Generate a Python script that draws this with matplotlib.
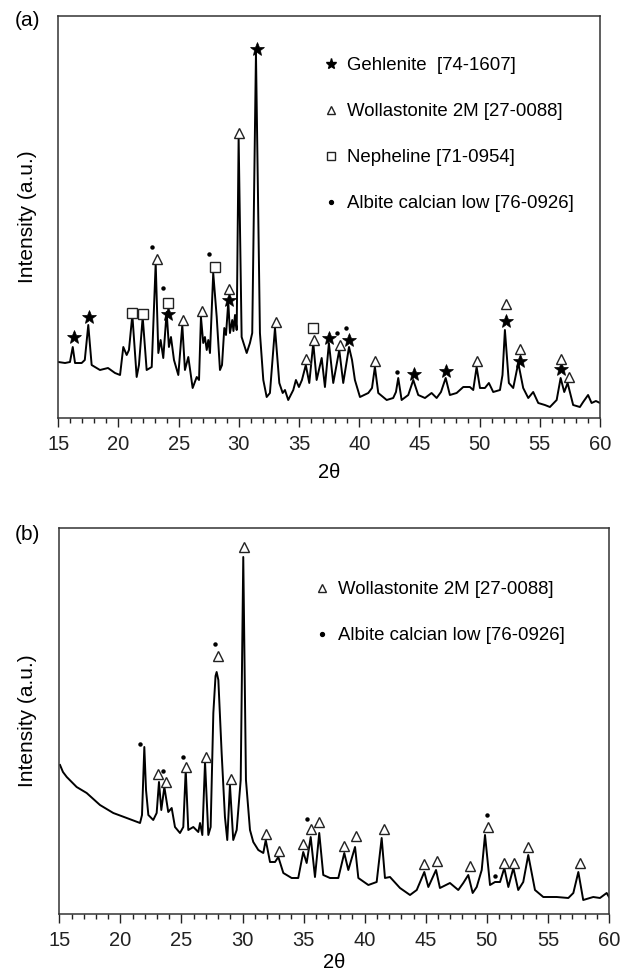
import matplotlib
matplotlib.use("Agg")
import matplotlib.pyplot as plt
from matplotlib.lines import Line2D
from matplotlib.ticker import MultipleLocator

plt.rcParams['font.family'] = ['Liberation Sans', 'DejaVu Sans']

# ---------------- Panel (a) data ----------------
a_two_theta = [15.0, 15.56, 15.97, 16.2, 16.39, 16.94, 17.2, 17.49, 17.77, 18.05, 18.46, 19.13,
               19.71, 20.13, 20.4, 20.68, 20.87, 21.15, 21.51, 21.7, 22.01, 22.34, 22.76, 23.09,
               23.31, 23.5, 23.72, 24.0, 24.19, 24.36, 24.61, 24.97, 25.3, 25.52, 25.8, 26.16,
               26.5, 26.69, 26.85, 27.04, 27.18, 27.33, 27.46, 27.6, 27.87, 28.16, 28.43, 28.6,
               28.79, 28.93, 29.12, 29.26, 29.45, 29.55, 29.68, 29.82, 29.98, 30.23, 30.65, 30.92,
               31.11, 31.42, 31.75, 32.03, 32.31, 32.58, 33.0, 33.36, 33.64, 33.83, 34.1, 34.52,
               34.74, 34.99, 35.24, 35.56, 35.85, 36.18, 36.46, 36.88, 37.15, 37.48, 37.84, 38.34,
               38.67, 39.15, 39.4, 39.64, 40.06, 40.75, 41.06, 41.3, 41.58, 42.28, 42.82, 43.05,
               43.24, 43.52, 44.07, 44.49, 44.9, 45.46, 46.01, 46.43, 46.79, 47.18, 47.53, 48.09,
               48.64, 49.19, 49.47, 49.75, 50.03, 50.44, 50.77, 51.13, 51.69, 51.9, 52.1, 52.43,
               52.79, 53.21, 53.62, 54.04, 54.45, 54.87, 55.42, 55.84, 56.4, 56.73, 57.03, 57.31,
               57.77, 58.33, 58.6, 59.01, 59.3, 59.66, 60.0]
a_intensity = [56, 55, 56, 71, 55, 55, 58, 93, 53, 51, 48, 50,
               45, 43, 71, 63, 68, 103, 41, 53, 101, 48, 51, 155,
               65, 78, 60, 106, 71, 81, 58, 43, 93, 48, 61, 30,
               41, 38, 101, 75, 81, 68, 78, 65, 145, 101, 48, 53,
               90, 83, 116, 85, 98, 87, 103, 88, 281, 81, 65, 75,
               85, 365, 85, 38, 21, 25, 90, 35, 25, 28, 18, 28,
               38, 31, 38, 53, 35, 75, 38, 60, 31, 75, 35, 68,
               35, 71, 58, 38, 21, 25, 30, 51, 25, 18, 20, 26,
               40, 18, 23, 38, 23, 20, 25, 20, 26, 40, 23, 25,
               31, 31, 28, 51, 30, 30, 35, 26, 28, 43, 88, 35,
               30, 55, 30, 20, 26, 15, 13, 11, 18, 40, 26, 35,
               13, 11, 16, 23, 15, 17, 15]

a_gehlenite_x = [16.33, 17.58, 24.08, 29.15, 31.48, 37.48, 39.15, 44.55, 47.17, 52.15, 53.35, 56.75]
a_gehlenite_y = [81, 101, 104, 118, 369, 80, 78, 44, 47, 97, 57, 49]
a_wollast_x = [23.17, 25.36, 26.9, 29.15, 30.0, 33.08, 35.57, 36.24, 38.4, 41.3, 49.75, 52.15, 53.35, 56.75, 57.44]
a_wollast_y = [159, 98, 107, 129, 285, 96, 59, 78, 73, 57, 57, 114, 69, 59, 41]
a_nephel_x = [21.15, 22.07, 24.08, 28.0, 36.18]
a_nephel_y = [105, 104, 115, 151, 90]
a_albite_x = [22.8, 23.72, 27.5, 38.12, 38.87, 43.16]
a_albite_y = [171, 130, 164, 85, 90, 46]

a_legend = ["Gehlenite  [74-1607]", "Wollastonite 2M [27-0088]",
            "Nepheline [71-0954]", "Albite calcian low [76-0926]"]

# ---------------- Panel (b) data ----------------
b_two_theta = [15.06, 15.3, 15.61, 16.42, 17.24, 18.33, 19.42, 20.52, 21.61, 21.77, 21.96, 22.1,
               22.29, 22.69, 22.97, 23.16, 23.35, 23.6, 23.92, 24.2, 24.47, 24.88, 25.15, 25.35,
               25.56, 25.97, 26.38, 26.52, 26.71, 26.93, 27.2, 27.39, 27.61, 27.79, 27.88, 28.02,
               28.29, 28.56, 28.75, 28.97, 29.24, 29.52, 29.85, 30.06, 30.28, 30.61, 30.88, 31.29,
               31.7, 31.9, 32.25, 32.66, 32.93, 33.34, 34.02, 34.56, 34.97, 35.25, 35.58, 35.93,
               36.28, 36.61, 37.16, 37.84, 38.33, 38.66, 39.21, 39.48, 40.3, 40.98, 41.39, 41.66,
               42.07, 42.89, 43.71, 44.26, 44.88, 45.21, 45.84, 46.16, 46.98, 47.66, 48.07, 48.48,
               48.84, 49.17, 49.58, 49.85, 50.26, 50.67, 51.08, 51.43, 51.76, 52.17, 52.57, 52.98,
               53.39, 53.94, 54.62, 55.72, 56.67, 57.08, 57.49, 57.89, 58.71, 59.26, 59.81, 60.0]
b_intensity = [149, 142, 137, 127, 121, 109, 101, 96, 91, 99, 167, 124,
               99, 94, 101, 132, 104, 127, 102, 106, 87, 81, 87, 144,
               84, 87, 82, 91, 79, 152, 79, 87, 201, 238, 242, 234,
               161, 97, 74, 129, 74, 84, 134, 357, 134, 84, 72, 64,
               61, 74, 52, 52, 57, 41, 36, 36, 62, 51, 77, 37,
               81, 39, 36, 36, 61, 44, 67, 36, 29, 32, 76, 36,
               37, 26, 19, 24, 42, 27, 44, 26, 31, 24, 31, 39,
               21, 27, 44, 79, 29, 32, 32, 46, 27, 46, 24, 32,
               59, 24, 17, 17, 16, 21, 42, 14, 17, 16, 21, 17]

b_wollast_x = [23.1, 23.71, 25.37, 27.0, 28.0, 29.03, 30.14, 31.93, 33.0, 34.92, 35.6, 36.3,
               38.33, 39.26, 41.56, 44.86, 45.9, 48.64, 50.07, 51.43, 52.22, 53.4, 57.65]
b_wollast_y = [140, 132, 147, 157, 258, 135, 367, 80, 63, 70, 85, 92,
               68, 78, 85, 50, 53, 48, 87, 51, 51, 67, 51]
b_albite_x = [21.61, 23.46, 25.1, 27.74, 35.25, 50.0, 50.7]
b_albite_y = [170, 143, 157, 270, 95, 99, 38]

b_legend = ["Wollastonite 2M [27-0088]", "Albite calcian low [76-0926]"]

x_ticks = [15, 20, 25, 30, 35, 40, 45, 50, 55, 60]

# ---------------- Figure ----------------
fig = plt.figure(figsize=(6.31, 9.75), dpi=100)
ax_a = fig.add_axes([58.3 / 631, 1 - 418 / 975, (600 - 58.3) / 631, (418 - 16) / 975])
ax_b = fig.add_axes([59.3 / 631, 1 - 914 / 975, (609 - 59.3) / 631, (914 - 528) / 975])

line_kw = dict(color='black', lw=1.4)
star_kw = dict(ls='none', marker='*', ms=10, mfc='black', mec='black', mew=0.5)
tri_kw = dict(ls='none', marker='^', ms=7.5, mfc='white', mec='#222222', mew=1.0)
sq_kw = dict(ls='none', marker='s', ms=6.5, mfc='white', mec='#222222', mew=1.0)
dot_kw = dict(ls='none', marker='o', ms=3.2, mfc='black', mec='black', mew=0)

def style_axes(ax, ymax, xlabelpad):
    ax.set_xlim(15, 60)
    ax.set_ylim(0, ymax)
    ax.set_xticks(x_ticks)
    ax.xaxis.set_minor_locator(MultipleLocator(1))
    ax.tick_params(axis='x', which='major', direction='out', length=6.5, width=1.0,
                   labelsize=14.5, pad=6, colors='#222222')
    ax.tick_params(axis='x', which='minor', direction='out', length=3.5, width=1.0,
                   colors='#222222')
    ax.set_yticks([])
    for s in ax.spines.values():
        s.set_linewidth(1.1)
        s.set_color('#333333')
    ax.set_xlabel('2θ', fontsize=14.5, labelpad=xlabelpad)
    ax.set_ylabel('Intensity (a.u.)', fontsize=15)
    ax.yaxis.set_label_coords(-0.04, 0.5)

# Panel (a)
ax_a.plot(a_two_theta, a_intensity, **line_kw)
ax_a.plot(a_gehlenite_x, a_gehlenite_y, **star_kw)
ax_a.plot(a_wollast_x, a_wollast_y, **tri_kw)
ax_a.plot(a_nephel_x, a_nephel_y, **sq_kw)
ax_a.plot(a_albite_x, a_albite_y, **dot_kw)
style_axes(ax_a, 402, 6)

h_a = [Line2D([], [], ls='none', marker='*', ms=8, mfc='black', mec='black'),
       Line2D([], [], ls='none', marker='^', ms=6, mfc='white', mec='#222222', mew=1.0),
       Line2D([], [], ls='none', marker='s', ms=5.5, mfc='white', mec='#222222', mew=1.0),
       Line2D([], [], ls='none', marker='o', ms=2.8, mfc='black', mec='black')]
ax_a.legend(h_a, a_legend, loc='upper left', bbox_to_anchor=(0.49, 0.897), frameon=False,
            fontsize=13.4, labelspacing=1.55, handlelength=0.8, handletextpad=0.45,
            borderaxespad=0, borderpad=0)

# Panel (b)
ax_b.plot(b_two_theta, b_intensity, **line_kw)
ax_b.plot(b_wollast_x, b_wollast_y, **tri_kw)
ax_b.plot(b_albite_x, b_albite_y, **dot_kw)
style_axes(ax_b, 386, 2)

h_b = [Line2D([], [], ls='none', marker='^', ms=6, mfc='white', mec='#222222', mew=1.0),
       Line2D([], [], ls='none', marker='o', ms=2.8, mfc='black', mec='black')]
ax_b.legend(h_b, b_legend, loc='upper left', bbox_to_anchor=(0.465, 0.862), frameon=False,
            fontsize=13.4, labelspacing=1.55, handlelength=0.8, handletextpad=0.45,
            borderaxespad=0, borderpad=0)

fig.text(15 / 631, 1 - 20 / 975, '(a)', fontsize=15, va='center', ha='left')
fig.text(15 / 631, 1 - 535 / 975, '(b)', fontsize=15, va='center', ha='left')

fig.savefig('out.png', dpi=100)
